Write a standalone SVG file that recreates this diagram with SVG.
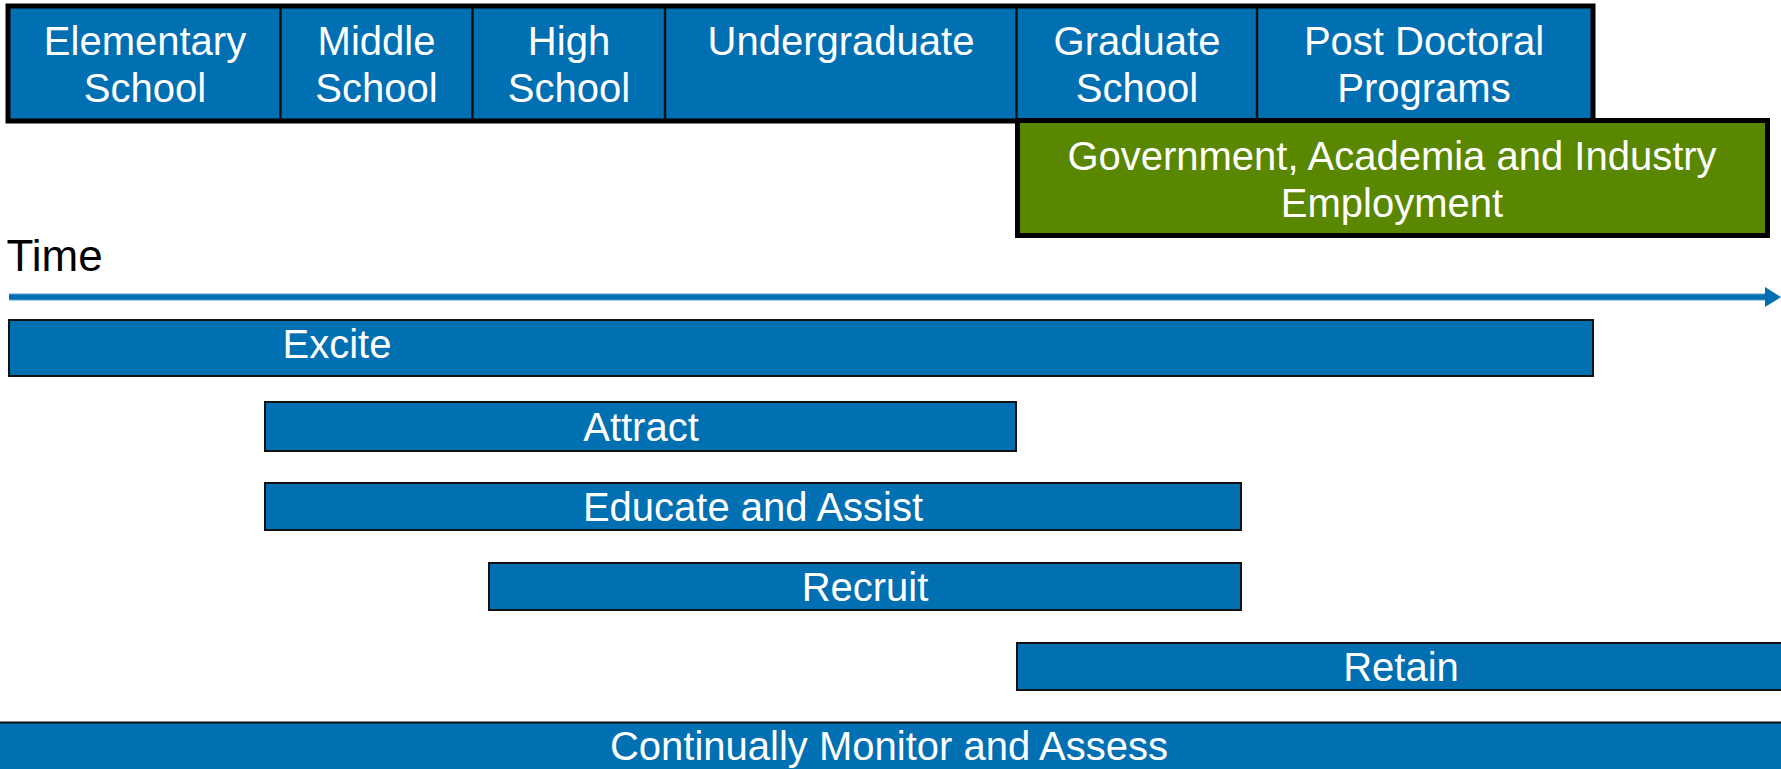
<svg xmlns="http://www.w3.org/2000/svg" width="1781" height="769" viewBox="0 0 1781 769">
<style>
.t{font-family:"Liberation Sans",Arial,sans-serif;font-size:40px;fill:#ffffff;text-anchor:middle}
.blk{font-family:"Liberation Sans",Arial,sans-serif;font-size:44px;fill:#000000}
.div{stroke:#111111;stroke-width:2.5}
.bar{fill:#0070B2;stroke:#111111;stroke-width:2}
</style>
<defs>
<marker id="ah" markerUnits="userSpaceOnUse" markerWidth="18" markerHeight="22" refX="0" refY="10" orient="auto">
<polygon points="0,0 16,10 0,20" fill="#0070B2"/>
</marker>
</defs>
<rect width="1781" height="769" fill="#ffffff"/>
<g id="stages">
<rect x="8" y="6" width="1585" height="115" fill="#0070B2" stroke="#000" stroke-width="5"/>
<line class="div" x1="280.5" y1="8" x2="280.5" y2="119"/>
<line class="div" x1="472.5" y1="8" x2="472.5" y2="119"/>
<line class="div" x1="665" y1="8" x2="665" y2="119"/>
<line class="div" x1="1016.5" y1="8" x2="1016.5" y2="119"/>
<line class="div" x1="1257" y1="8" x2="1257" y2="119"/>
</g>
<g id="elementary"><text class="t" x="145" y="55">Elementary</text><text class="t" x="145" y="102">School</text></g>
<g id="middle"><text class="t" x="376.5" y="55">Middle</text><text class="t" x="376.5" y="102">School</text></g>
<g id="high"><text class="t" x="569" y="55">High</text><text class="t" x="569" y="102">School</text></g>
<g id="undergraduate"><text class="t" x="841" y="55">Undergraduate</text></g>
<g id="graduate"><text class="t" x="1137" y="55">Graduate</text><text class="t" x="1137" y="102">School</text></g>
<g id="postdoc"><text class="t" x="1424" y="55">Post Doctoral</text><text class="t" x="1424" y="102">Programs</text></g>
<g id="employment">
<rect x="1017.5" y="120.5" width="750" height="115" fill="#5A8700" stroke="#000" stroke-width="5"/>
<text class="t" x="1392" y="170">Government, Academia and Industry</text>
<text class="t" x="1392" y="217">Employment</text>
</g>
<g id="time"><text class="blk" x="6.5" y="270.5">Time</text></g>
<g id="connectors">
<line x1="9" y1="297" x2="1765" y2="297" stroke="#A8CDEA" stroke-width="8"/>
<line x1="9" y1="297" x2="1765" y2="297" stroke="#0070B2" stroke-width="5.5" marker-end="url(#ah)"/>
</g>
<g id="excite"><rect class="bar" x="9" y="320" width="1584" height="56"/><text class="t" x="337" y="358">Excite</text></g>
<g id="attract"><rect class="bar" x="265" y="402" width="751" height="49"/><text class="t" x="641" y="441">Attract</text></g>
<g id="educate"><rect class="bar" x="265" y="483" width="976" height="47"/><text class="t" x="753" y="521">Educate and Assist</text></g>
<g id="recruit"><rect class="bar" x="489" y="563" width="752" height="47"/><text class="t" x="865" y="601">Recruit</text></g>
<g id="retain"><rect class="bar" x="1017" y="643" width="780" height="47"/><text class="t" x="1401" y="681">Retain</text></g>
<g id="monitor"><rect class="bar" x="-5" y="722.5" width="1800" height="60"/><text class="t" x="889" y="760">Continually Monitor and Assess</text></g>
</svg>
